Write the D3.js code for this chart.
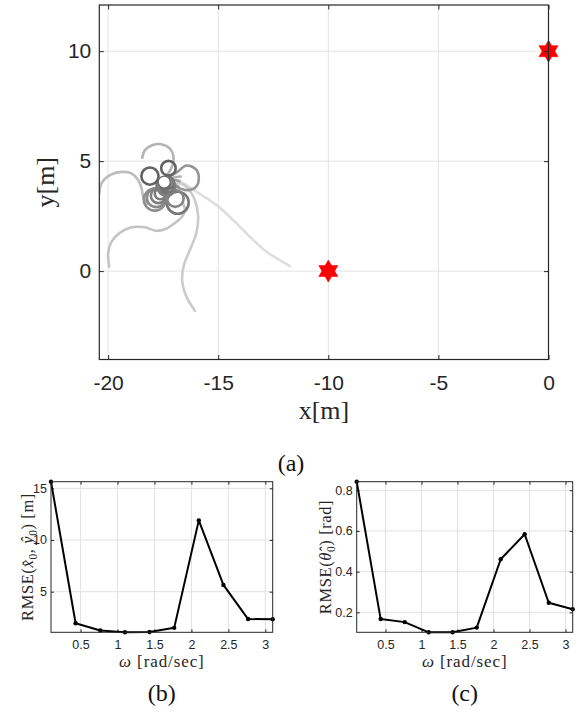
<!DOCTYPE html>
<html>
<head>
<meta charset="utf-8">
<script src="https://cdn.jsdelivr.net/npm/d3@7"></script>
<style>
  body { margin: 0; background: #fff; }
  svg { display: block; }
</style>
</head>
<body>
<div id="fig"></div>
<script>
// ---------- data: panel (a) ----------
const xTicksA = [-20, -15, -10, -5, 0];
const yTicksA = [0, 5, 10];
const targets = [[0, 10], [-10, 0]];
const start = [-17.45, 4.05];

// open trajectories, [x, y] in metres
const trajSE = [[-17.3, 4.1], [-16.74, 4.06], [-15.98, 3.6], [-15.07, 3.0], [-14.32, 2.32], [-13.56, 1.56], [-12.8, 0.88], [-11.74, 0.23]];
const trajDown = [[-17.1, 4.05], [-16.74, 3.99], [-16.44, 3.83], [-16.06, 3.23], [-15.91, 2.47], [-16.0, 1.71], [-16.29, 0.95], [-16.55, 0.3], [-16.64, -0.41], [-16.44, -1.17], [-16.06, -1.8]];
const trajLowLeft = [[-19.95, 0.2], [-20.0, 0.8], [-19.85, 1.33], [-19.47, 1.74], [-18.94, 1.99], [-18.33, 1.99], [-17.8, 1.83], [-17.35, 1.94], [-16.89, 2.24], [-16.62, 2.5], [-16.51, 2.8], [-16.6, 3.08]];
const trajLeft = [[-20.4, 3.5], [-20.3, 3.99], [-19.92, 4.36], [-19.39, 4.51], [-18.94, 4.44], [-18.64, 4.14], [-18.48, 3.76], [-18.41, 3.38], [-18.25, 3.05]];
const trajTop = [[-18.45, 5.15], [-18.33, 5.5], [-18.0, 5.72], [-17.6, 5.77], [-17.2, 5.58], [-17.03, 5.2], [-17.08, 4.8], [-17.3, 4.4]];
const trajRight = [[-17.2, 4.3], [-16.86, 4.51], [-16.44, 4.8], [-16.01, 4.62], [-15.88, 4.21], [-16.01, 3.83], [-16.36, 3.68], [-16.74, 3.76], [-17.1, 3.95]];
const fanA = [[-17.45, 4.05], [-17.1, 4.15], [-16.75, 4.1]];
const fanB = [[-17.45, 4.05], [-17.1, 4.0], [-16.8, 3.85]];
const fanC = [[-17.45, 4.05], [-17.15, 3.85], [-16.95, 3.6]];
const fanD = [[-17.45, 4.05], [-17.05, 4.25], [-16.7, 4.3]];

const openPaths = [trajSE, trajDown, trajLowLeft, trajLeft, trajTop, trajRight, fanA, fanB, fanC, fanD];
const openShades = ["#dedede", "#cbcbcb", "#c4c4c4", "#bdbdbd", "#b3b3b3", "#969696", "#8a8a8a", "#8a8a8a", "#8a8a8a", "#9a9a9a"];

// closed loops [cx, cy, r] in metres
const loops = [
  [-17.88, 3.25, 0.5], [-17.81, 3.34, 0.43], [-17.72, 3.43, 0.34], [-17.63, 3.52, 0.25],
  [-16.84, 3.11, 0.5], [-16.95, 3.3, 0.38],
  [-17.3, 3.9, 0.32], [-17.4, 3.95, 0.22], [-17.5, 3.88, 0.3], [-17.25, 4.0, 0.25], [-17.35, 3.82, 0.4],
  [-18.1, 4.32, 0.39], [-17.26, 4.68, 0.33]
];
const loopShades = ["#8f8f8f", "#888", "#808080", "#7a7a7a", "#777", "#858585", "#747474", "#6e6e6e", "#747474", "#6e6e6e", "#7e7e7e", "#626262", "#626262"];

// ---------- data: panels (b), (c) ----------
const omega = [0.1, 0.433, 0.767, 1.1, 1.433, 1.767, 2.1, 2.433, 2.767, 3.1];
const omegaTicks = [0.5, 1, 1.5, 2, 2.5, 3];
const rmsePos = [15.64, 1.95, 1.25, 1.07, 1.1, 1.5, 11.9, 5.65, 2.35, 2.33];
const rmsePosTicks = [5, 10, 15];
const rmseTheta = [0.842, 0.167, 0.152, 0.102, 0.102, 0.125, 0.461, 0.584, 0.247, 0.215];
const rmseThetaTicks = [0.2, 0.4, 0.6, 0.8];

const width = 584;
const height = 715;
const axisCol = "#262626";
const gridCol = "#e2e2e2";
const sans = "'Liberation Sans', Arial, sans-serif";
const serif = "'Liberation Serif', 'Times New Roman', serif";
const hyphen = (fmt) => (d) => d3.format(fmt)(d).replace("\u2212", "-");

const svg = d3.select("#fig").append("svg")
  .attr("width", width)
  .attr("height", height);

// ================= panel (a) =================
const ax = d3.scaleLinear().domain([-20.4, 0]).range([99.3, 548.5]);
const ay = d3.scaleLinear().domain([-4.02, 12.1]).range([359.5, 5]);

const ga = svg.append("g");

ga.append("clipPath").attr("id", "clipA").append("rect")
  .attr("x", ax.range()[0]).attr("y", ay.range()[1])
  .attr("width", ax.range()[1] - ax.range()[0])
  .attr("height", ay.range()[0] - ay.range()[1]);

// grid
ga.append("g").selectAll("line").data(xTicksA).enter().append("line")
  .attr("x1", (d) => ax(d)).attr("x2", (d) => ax(d))
  .attr("y1", ay.range()[0]).attr("y2", ay.range()[1])
  .style("stroke", gridCol).style("stroke-width", 1);
ga.append("g").selectAll("line").data(yTicksA).enter().append("line")
  .attr("y1", (d) => ay(d)).attr("y2", (d) => ay(d))
  .attr("x1", ax.range()[0]).attr("x2", ax.range()[1])
  .style("stroke", gridCol).style("stroke-width", 1);

const plotA = ga.append("g").attr("clip-path", "url(#clipA)");

const line = d3.line()
  .x((d) => ax(d[0]))
  .y((d) => ay(d[1]))
  .curve(d3.curveCatmullRom.alpha(0.5));

plotA.append("g").selectAll("path").data(openPaths).enter().append("path")
  .attr("d", line)
  .style("fill", "none")
  .style("stroke", (d, i) => openShades[i])
  .style("stroke-width", 2.6)
  .style("stroke-linecap", "round")
  .style("opacity", (d, i) => i >= 6 ? 0.75 : 1);

const pxPerUnit = ax(1) - ax(0);
plotA.append("g").selectAll("circle").data(loops).enter().append("circle")
  .attr("cx", (d) => ax(d[0]))
  .attr("cy", (d) => ay(d[1]))
  .attr("r", (d) => d[2] * pxPerUnit)
  .style("fill", "none")
  .style("stroke", (d, i) => loopShades[i])
  .style("stroke-width", 2.6);

// start marker
plotA.append("circle")
  .attr("cx", ax(start[0])).attr("cy", ay(start[1]))
  .attr("r", 6)
  .style("fill", "#fff")
  .style("stroke", "#6a6a6a")
  .style("stroke-width", 1.2);

// hexagram targets
const hexagram = (R) => {
  const r = R / Math.sqrt(3);
  const pts = d3.range(12).map((k) => {
    const a = -Math.PI / 2 + k * Math.PI / 6;
    const rr = k % 2 === 0 ? R : r;
    return [rr * Math.cos(a), rr * Math.sin(a)];
  });
  return "M" + pts.map((p) => p.join(",")).join("L") + "Z";
};
ga.append("g").selectAll("path").data(targets).enter().append("path")
  .attr("d", hexagram(11))
  .attr("transform", (d) => `translate(${ax(d[0])},${ay(d[1])})`)
  .style("fill", "#ff0000")
  .style("stroke", "#ff0000")
  .style("stroke-width", 0.6);

// axes box + ticks
const styleAxis = (sel, size) => {
  sel.select(".domain").remove();
  sel.selectAll(".tick line").style("stroke", axisCol);
  sel.selectAll(".tick text").style("fill", axisCol)
    .style("font-family", sans).style("font-size", size + "px");
};

ga.append("g")
  .attr("transform", `translate(0,${ay.range()[0]})`)
  .call(d3.axisBottom(ax).tickValues(xTicksA).tickSizeInner(-4.5).tickSizeOuter(0).tickPadding(16).tickFormat(hyphen("d")))
  .call((s) => styleAxis(s, 21));
ga.append("g")
  .attr("transform", `translate(0,${ay.range()[1]})`)
  .call(d3.axisTop(ax).tickValues(xTicksA).tickSizeInner(-4.5).tickSizeOuter(0).tickFormat(""))
  .call((s) => styleAxis(s, 21));
ga.append("g")
  .attr("transform", `translate(${ax.range()[0]},0)`)
  .call(d3.axisLeft(ay).tickValues(yTicksA).tickSizeInner(-4.5).tickSizeOuter(0).tickPadding(8).tickFormat(hyphen("d")))
  .call((s) => styleAxis(s, 21));
ga.append("g")
  .attr("transform", `translate(${ax.range()[1]},0)`)
  .call(d3.axisRight(ay).tickValues(yTicksA).tickSizeInner(-4.5).tickSizeOuter(0).tickFormat(""))
  .call((s) => styleAxis(s, 21));

ga.append("rect")
  .attr("x", ax.range()[0]).attr("y", ay.range()[1])
  .attr("width", ax.range()[1] - ax.range()[0])
  .attr("height", ay.range()[0] - ay.range()[1])
  .style("fill", "none").style("stroke", axisCol).style("stroke-width", 1.2);

ga.append("text")
  .attr("x", (ax.range()[0] + ax.range()[1]) / 2).attr("y", 419)
  .attr("text-anchor", "middle")
  .style("font-family", serif).style("font-size", "26px").style("fill", axisCol)
  .text("x[m]");
ga.append("text")
  .attr("transform", `translate(54,${(ay.range()[0] + ay.range()[1]) / 2}) rotate(-90)`)
  .attr("text-anchor", "middle")
  .style("font-family", serif).style("font-size", "26px").style("fill", axisCol)
  .text("y[m]");

svg.append("text")
  .attr("x", 291).attr("y", 471)
  .attr("text-anchor", "middle")
  .style("font-family", serif).style("font-size", "24px").style("fill", "#111")
  .text("(a)");

// ================= panels (b), (c) =================
const smallPlot = (left, right, values, yTicks, yFmt, yLabelX, yLabel, tag) => {
  const top = 481.7, bottom = 632.3;
  const x = d3.scaleLinear().domain(d3.extent(omega)).range([left, right]);
  const y = d3.scaleLinear().domain(d3.extent(values)).range([bottom, top]);
  const g = svg.append("g");

  g.append("g").selectAll("line").data(omegaTicks).enter().append("line")
    .attr("x1", (d) => x(d)).attr("x2", (d) => x(d))
    .attr("y1", bottom).attr("y2", top)
    .style("stroke", gridCol);
  g.append("g").selectAll("line").data(yTicks).enter().append("line")
    .attr("y1", (d) => y(d)).attr("y2", (d) => y(d))
    .attr("x1", left).attr("x2", right)
    .style("stroke", gridCol);

  g.append("g")
    .attr("transform", `translate(0,${bottom})`)
    .call(d3.axisBottom(x).tickValues(omegaTicks).tickSizeInner(-3).tickSizeOuter(0).tickPadding(8).tickFormat(d3.format("")))
    .call((s) => styleAxis(s, 12.5));
  g.append("g")
    .attr("transform", `translate(0,${top})`)
    .call(d3.axisTop(x).tickValues(omegaTicks).tickSizeInner(-3).tickSizeOuter(0).tickFormat(""))
    .call((s) => styleAxis(s, 12.5));
  g.append("g")
    .attr("transform", `translate(${left},0)`)
    .call(d3.axisLeft(y).tickValues(yTicks).tickSizeInner(-3).tickSizeOuter(0).tickPadding(4).tickFormat(yFmt))
    .call((s) => styleAxis(s, 12.5));
  g.append("g")
    .attr("transform", `translate(${right},0)`)
    .call(d3.axisRight(y).tickValues(yTicks).tickSizeInner(-3).tickSizeOuter(0).tickFormat(""))
    .call((s) => styleAxis(s, 12.5));

  g.append("path")
    .datum(values)
    .attr("d", d3.line().x((d, i) => x(omega[i])).y((d) => y(d)))
    .style("fill", "none").style("stroke", "#000").style("stroke-width", 2)
    .style("stroke-linejoin", "round");
  g.append("g").selectAll("circle").data(values).enter().append("circle")
    .attr("cx", (d, i) => x(omega[i])).attr("cy", (d) => y(d))
    .attr("r", 2.2).style("fill", "#000");

  g.append("rect")
    .attr("x", left).attr("y", top)
    .attr("width", right - left).attr("height", bottom - top)
    .style("fill", "none").style("stroke", axisCol).style("stroke-width", 1);

  // x label
  const xl = g.append("text")
    .attr("x", (left + right) / 2).attr("y", 667)
    .attr("text-anchor", "middle")
    .style("font-family", serif).style("font-size", "17px").style("fill", axisCol)
    .style("letter-spacing", "0.9px");
  xl.append("tspan").style("font-style", "italic").text("\u03C9");
  xl.append("tspan").text(" [rad/sec]");

  // y label
  const yl = g.append("text")
    .attr("transform", `translate(${yLabelX},${(top + bottom) / 2}) rotate(-90)`)
    .attr("text-anchor", "middle")
    .style("font-family", serif).style("font-size", "16.5px").style("fill", axisCol)
    .style("letter-spacing", "0.6px");
  yLabel.forEach((p) => {
    const t = yl.append("tspan").text(p.t);
    if (p.it) t.style("font-style", "italic");
    if (p.sub) t.attr("dy", 4).style("font-size", "11.5px");
    if (p.up) t.attr("dy", -4);
  });

  svg.append("text")
    .attr("x", (left + right) / 2).attr("y", 701)
    .attr("text-anchor", "middle")
    .style("font-family", serif).style("font-size", "24px").style("fill", "#111")
    .text(tag);
};

smallPlot(51, 272.7, rmsePos, rmsePosTicks, d3.format("d"), 33, [
  { t: "RMSE(" }, { t: "x\u0302", it: true }, { t: "0", sub: true },
  { t: ", ", up: true }, { t: "y\u0302", it: true }, { t: "0", sub: true },
  { t: ") [m]", up: true }
], "(b)");

smallPlot(356.7, 572.7, rmseTheta, rmseThetaTicks, d3.format(".1f"), 331, [
  { t: "RMSE(" }, { t: "\u03B8\u0302", it: true }, { t: "0", sub: true },
  { t: ") [rad]", up: true }
], "(c)");
</script>
</body>
</html>
